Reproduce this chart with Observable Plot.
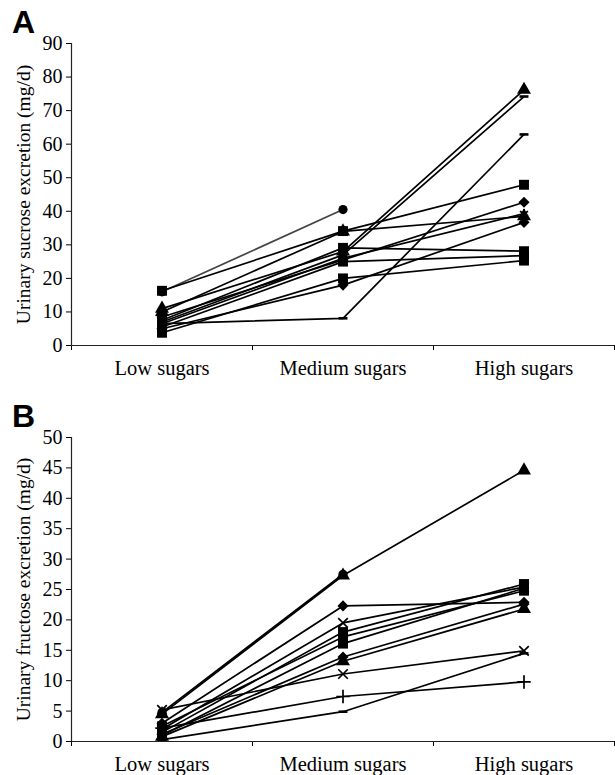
<!DOCTYPE html>
<html>
<head>
<meta charset="utf-8">
<script src="https://cdn.jsdelivr.net/npm/d3@7"></script>
<script src="https://cdn.jsdelivr.net/npm/@observablehq/plot@0.6"></script>
<style>
  html, body { margin: 0; padding: 0; background: #fff; }
  #wrap { position: relative; width: 615px; }
  .panel-letter { position: absolute; left: 12px; font-family: "Liberation Sans", Arial, sans-serif; font-weight: bold; font-size: 32px; line-height: 32px; color: #000; }
  svg { display: block; }
</style>
</head>
<body>
<div id="wrap">
  <div id="chartA"></div>
  <div id="chartB"></div>
  <div class="panel-letter" style="top:6px">A</div>
  <div class="panel-letter" style="top:400px">B</div>
</div>
<script>
// ---- Data ----
const conditions = ["Low sugars", "Medium sugars", "High sugars"];

// Panel A: urinary sucrose (mg/d), one entry per subject
const sucroseSymbols = ["circle", "square", "triangle", "dash", "dash", "square", "diamond", "asterisk", "triangle", "diamond", "square", "square"];
const sucroseLow     = [16.0, 16.3, 11.0, 7.0, 6.5, 7.5, 8.5, 6.5, 10.0, 5.0, 5.5, 3.8];
const sucroseMedium  = [40.5, 34.1, 28.0, 27.0, 8.1, 29.1, 25.5, 26.0, 34.0, 18.0, 25.0, 20.0];
const sucroseHigh    = [null, 47.9, 76.2, 74.2, 62.9, 28.1, 42.7, 39.3, 38.5, 36.7, 26.8, 25.3];
const sucroseTicks   = [0, 10, 20, 30, 40, 50, 60, 70, 80, 90];

// Panel B: urinary fructose (mg/d)
const fructoseSymbols = ["circle", "triangle", "diamond", "times", "square", "square", "square", "diamond", "triangle", "times", "plus", "dash"];
const fructoseLow     = [4.8, 4.5, 3.0, 2.0, 1.5, 2.5, 1.0, 1.2, 0.8, 5.2, 2.2, 0.3];
const fructoseMedium  = [27.5, 27.3, 22.3, 19.5, 18.0, 17.2, 16.1, 13.9, 13.2, 11.1, 7.4, 4.9];
const fructoseHigh    = [null, 44.6, 22.9, 25.4, 25.9, 24.8, 25.2, 22.6, 21.8, 14.9, 9.8, 14.5];
const fructoseTicks   = [0, 5, 10, 15, 20, 25, 30, 35, 40, 45, 50];

// ---- Symbols ----
const dashSymbol = { draw(ctx, size) { const w = Math.sqrt(size) * 0.45; ctx.rect(-w, -1.3, 2 * w, 2.6); } };
const symbolDefs = {
  circle:   { sym: d3.symbolCircle,   r: 4.6, filled: true },
  square:   { sym: d3.symbolSquare,   r: 5.6, filled: true },
  triangle: { sym: d3.symbolTriangle, r: 5.2, filled: true },
  diamond:  { sym: d3.symbolDiamond2, r: 5.0, filled: true },
  dash:     { sym: dashSymbol,        r: 5.6, filled: true },
  asterisk: { sym: d3.symbolAsterisk, r: 4.4, filled: false },
  times:    { sym: d3.symbolTimes,    r: 4.4, filled: false },
  plus:     { sym: d3.symbolPlus,     r: 4.4, filled: false }
};

const serif = '"Liberation Serif", "Times New Roman", Times, serif';

function makePanel({symbols, low, medium, high, ticks, title, height, marginTop, marginBottom, firstLineColor}) {
  const series = [low, medium, high];
  const rows = [];
  symbols.forEach((s, i) => {
    conditions.forEach((c, j) => {
      rows.push({subject: i, condition: c, pos: j + 0.5, value: series[j][i], symbol: s});
    });
  });
  const yMax = ticks[ticks.length - 1];
  const dotMarks = Object.keys(symbolDefs).map(key => {
    const def = symbolDefs[key];
    const subset = rows.filter(d => d.symbol === key && d.value != null);
    if (!subset.length) return null;
    return Plot.dot(subset, {
      x: "pos", y: "value", symbol: def.sym, r: def.r,
      fill: def.filled ? "black" : "none",
      stroke: def.filled ? "none" : "black",
      strokeWidth: def.filled ? 0 : 1.7
    });
  }).filter(Boolean);

  return Plot.plot({
    width: 615,
    height,
    marginLeft: 71,
    marginRight: 1,
    marginTop,
    marginBottom,
    style: { fontFamily: serif, color: "black", background: "white", overflow: "visible" },
    x: { domain: [0, 3] },
    y: { domain: [0, yMax] },
    marks: [
      Plot.axisY({ ticks, tickSize: 5, tickPadding: 4, fontSize: 20, fontFamily: serif, label: null, strokeWidth: 1 }),
      Plot.axisX({ ticks: [0, 1, 2, 3], tickSize: 5, tickFormat: () => "", label: null, strokeWidth: 1 }),
      Plot.axisX({ ticks: [0.5, 1.5, 2.5], tickSize: 0, tickPadding: 15, fontSize: 20.5, fontFamily: serif,
                   tickFormat: d => conditions[Math.floor(d)], label: null }),
      Plot.ruleX([0], { stroke: "#222", strokeWidth: 1.2 }),
      Plot.ruleY([0], { stroke: "#222", strokeWidth: 1.2 }),
      Plot.text([title], { frameAnchor: "left", rotate: -90, dx: -48, fontSize: 19.5, fontFamily: serif, fill: "black", textAnchor: "middle" }),
      Plot.line(rows, { x: "pos", y: "value", z: "subject",
                        stroke: d => (d.subject === 0 && firstLineColor) ? firstLineColor : "black",
                        strokeWidth: 1.7 }),
      ...dotMarks
    ]
  });
}

document.getElementById("chartA").append(makePanel({
  symbols: sucroseSymbols, low: sucroseLow, medium: sucroseMedium, high: sucroseHigh,
  ticks: sucroseTicks, title: "Urinary sucrose excretion (mg/d)",
  height: 390, marginTop: 43, marginBottom: 45, firstLineColor: "#444"
}));

document.getElementById("chartB").append(makePanel({
  symbols: fructoseSymbols, low: fructoseLow, medium: fructoseMedium, high: fructoseHigh,
  ticks: fructoseTicks, title: "Urinary fructose excretion (mg/d)",
  height: 385, marginTop: 47, marginBottom: 34, firstLineColor: null
}));
</script>
</body>
</html>
